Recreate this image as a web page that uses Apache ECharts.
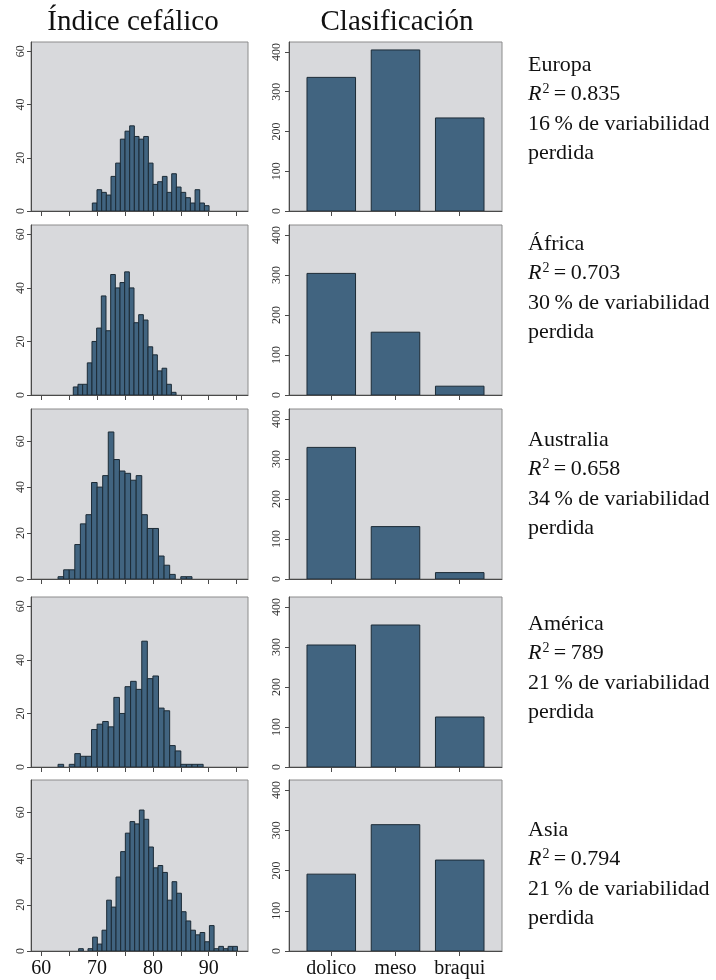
<!DOCTYPE html>
<html>
<head>
<meta charset="utf-8">
<script src="https://cdn.jsdelivr.net/npm/echarts@6/dist/echarts.min.js"></script>
<style>
  html, body { margin: 0; padding: 0; background: #ffffff; }
  #chart { width: 716px; height: 980px; }
</style>
</head>
<body>
<div id="chart"></div>
<script>
// ---- data -------------------------------------------------------------
const regions = ['Europa', 'África', 'Australia', 'América', 'Asia'];
const r2Labels = ['0.835', '0.703', '0.658', '789', '0.794'];
const lostPct = ['16', '30', '34', '21', '21'];
const classes = ['dolico', 'meso', 'braqui'];

const histTicks = [60, 65, 70, 75, 80, 85, 90, 95];
const histLabelTicks = [60, 70, 80, 90];
const countTicks = [0, 20, 40, 60];
const classTicks = [0, 100, 200, 300, 400];

// histogram breaks: first break and bin width for each region
const binStart = [69.14, 65.73, 63, 63, 66.69];
const binWidth = [0.837, 0.837, 1, 1, 0.837];

const histEuropa = [3, 8, 7, 6, 13, 18, 27, 30, 32, 28, 27, 28, 18, 10, 11, 13, 7, 14, 9, 7, 5, 3, 8, 3, 2];
const histAfrica = [3, 4, 4, 12, 20, 25, 37, 24, 45, 40, 42, 46, 40, 27, 30, 28, 18, 15, 9, 10, 4, 1];
const histAustralia = [1, 4, 4, 15, 24, 28, 42, 40, 45, 64, 52, 47, 46, 43, 45, 28, 22, 22, 10, 6, 2, 0, 1, 1];
const histAmerica = [1, 0, 1, 5, 4, 4, 14, 16, 17, 15, 26, 20, 30, 32, 29, 47, 33, 34, 22, 21, 8, 6, 1, 1, 1, 1];
const histAsia = [1, 0, 1, 6, 3, 9, 22, 19, 32, 43, 51, 56, 55, 61, 57, 45, 36, 37, 34, 22, 30, 25, 17, 13, 9, 7, 8, 4, 11, 1, 2, 1, 2, 2];

const classEuropa = [336, 405, 234];
const classAfrica = [304, 157, 22];
const classAustralia = [329, 131, 16];
const classAmerica = [305, 355, 125];
const classAsia = [191, 314, 226];

const histCounts = [histEuropa, histAfrica, histAustralia, histAmerica, histAsia];
const classCounts = [classEuropa, classAfrica, classAustralia, classAmerica, classAsia];

// ---- layout -----------------------------------------------------------
const rowTop = [42, 225, 409, 597, 780];
const rowBottom = [211, 395, 579, 767, 951];
const histYMax = [63.5, 63.5, 74, 63.5, 74];
const classYMax = 425;
const textTop = [65, 244, 440, 624, 830];
const lineStep = 29.5;

const FONT = '"Liberation Serif", "DejaVu Serif", serif';
const BAR_FILL = '#416480';
const BAR_EDGE = '#1c2b36';
const PANEL_BG = '#d8d9dc';
const PANEL_EDGE = '#8c8c8c';
const AXIS_COL = '#4a4a4a';

const chart = echarts.init(document.getElementById('chart'), null, { renderer: 'canvas' });

const grids = [], xAxes = [], yAxes = [], series = [];

function histRender(params, api) {
  const y = api.value(2);
  if (!y) return null;
  const p0 = api.coord([api.value(0), y]);
  const p1 = api.coord([api.value(1), 0]);
  return {
    type: 'rect',
    shape: { x: p0[0], y: p0[1], width: p1[0] - p0[0], height: p1[1] - p0[1] },
    style: { fill: BAR_FILL, stroke: BAR_EDGE, lineWidth: 1 }
  };
}

const CLASS_HALF = 0.378;
function classRender(params, api) {
  const c = api.value(0), v = api.value(1);
  const p0 = api.coord([c - CLASS_HALF, v]);
  const p1 = api.coord([c + CLASS_HALF, 0]);
  return {
    type: 'rect',
    shape: { x: p0[0], y: p0[1], width: p1[0] - p0[0], height: p1[1] - p0[1] },
    style: { fill: BAR_FILL, stroke: BAR_EDGE, lineWidth: 1 }
  };
}

regions.forEach((name, r) => {
  const last = r === regions.length - 1;
  const h = rowBottom[r] - rowTop[r];

  // histogram panel
  const gH = grids.length;
  grids.push({
    left: 31, width: 217, top: rowTop[r], height: h,
    show: true, backgroundColor: PANEL_BG, borderColor: PANEL_EDGE, borderWidth: 1,
    containLabel: false, outerBoundsMode: 'none'
  });
  xAxes.push({
    type: 'value', gridIndex: gH, min: 58.15, max: 97.04,
    axisLine: { show: true, lineStyle: { color: AXIS_COL, width: 1 } },
    axisTick: { show: true, customValues: histTicks, length: 5, lineStyle: { color: AXIS_COL } },
    axisLabel: { show: last, customValues: histLabelTicks, fontFamily: FONT, fontSize: 20, color: '#111', margin: 8 },
    splitLine: { show: false }
  });
  yAxes.push({
    type: 'value', gridIndex: gH, min: 0, max: histYMax[r],
    axisLine: { show: true, lineStyle: { color: AXIS_COL, width: 1 } },
    axisTick: { show: true, customValues: countTicks, length: 4, lineStyle: { color: AXIS_COL } },
    axisLabel: { show: true, customValues: countTicks, rotate: 90, fontFamily: FONT, fontSize: 12, color: '#333', margin: 4 },
    splitLine: { show: false }
  });
  series.push({
    type: 'custom', xAxisIndex: gH, yAxisIndex: gH, clip: true,
    renderItem: histRender,
    data: histCounts[r].map((c, i) => [binStart[r] + i * binWidth[r], binStart[r] + (i + 1) * binWidth[r], c])
  });

  // classification panel
  const gB = grids.length;
  grids.push({
    left: 289, width: 213, top: rowTop[r], height: h,
    show: true, backgroundColor: PANEL_BG, borderColor: PANEL_EDGE, borderWidth: 1,
    containLabel: false, outerBoundsMode: 'none'
  });
  xAxes.push({
    type: 'value', gridIndex: gB, min: 0.342, max: 3.658,
    axisLine: { show: true, lineStyle: { color: AXIS_COL, width: 1 } },
    axisTick: { show: true, customValues: [1, 2, 3], length: 5, lineStyle: { color: AXIS_COL } },
    axisLabel: {
      show: last, customValues: [1, 2, 3], fontFamily: FONT, fontSize: 20, color: '#111', margin: 8,
      formatter: v => classes[Math.round(v) - 1]
    },
    splitLine: { show: false }
  });
  yAxes.push({
    type: 'value', gridIndex: gB, min: 0, max: classYMax,
    axisLine: { show: true, lineStyle: { color: AXIS_COL, width: 1 } },
    axisTick: { show: true, customValues: classTicks, length: 4, lineStyle: { color: AXIS_COL } },
    axisLabel: { show: true, customValues: classTicks, rotate: 90, fontFamily: FONT, fontSize: 12, color: '#333', margin: 6 },
    splitLine: { show: false }
  });
  series.push({
    type: 'custom', xAxisIndex: gB, yAxisIndex: gB, clip: true,
    renderItem: classRender,
    data: classCounts[r].map((v, i) => [i + 1, v])
  });
});

// column headings and per-region notes
const graphic = [
  { type: 'text', x: 133, y: 22, style: { text: 'Índice cefálico', font: '29px ' + FONT, fill: '#111', align: 'center', verticalAlign: 'middle', textAlign: 'center', textVerticalAlign: 'middle' } },
  { type: 'text', x: 397, y: 22, style: { text: 'Clasificación', font: '29px ' + FONT, fill: '#111', align: 'center', verticalAlign: 'middle', textAlign: 'center', textVerticalAlign: 'middle' } }
];

const NOTE_SIZE = 22;
regions.forEach((name, r) => {
  const lines = [
    name,
    '{i|R}{s|2}{n|\u2009=\u2009' + r2Labels[r] + '}',
    lostPct[r] + '\u2009% de variabilidad',
    'perdida'
  ];
  lines.forEach((txt, k) => {
    graphic.push({
      type: 'text', x: 528, y: textTop[r] + k * lineStep,
      style: {
        text: txt,
        font: NOTE_SIZE + 'px ' + FONT, fill: '#111',
        align: 'left', verticalAlign: 'middle', textAlign: 'left', textVerticalAlign: 'middle',
        rich: {
          i: { fontFamily: FONT, fontSize: NOTE_SIZE, fontStyle: 'italic', fill: '#111', lineHeight: 25 },
          s: { fontFamily: FONT, fontSize: 14, fill: '#111', verticalAlign: 'top', lineHeight: 25, padding: [0, 0, 0, 1] },
          n: { fontFamily: FONT, fontSize: NOTE_SIZE, fill: '#111', lineHeight: 25 }
        }
      }
    });
  });
});

chart.setOption({
  animation: false,
  backgroundColor: '#ffffff',
  grid: grids,
  xAxis: xAxes,
  yAxis: yAxes,
  series: series,
  graphic: graphic
});
</script>
</body>
</html>
